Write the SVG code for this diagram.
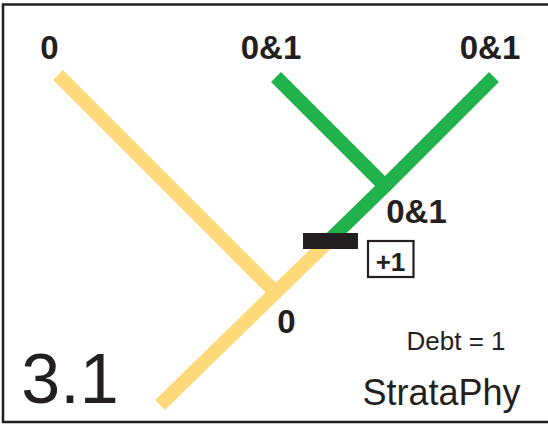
<svg xmlns="http://www.w3.org/2000/svg" width="548" height="424" viewBox="0 0 548 424">
<style>
.y{stroke:#FED97A;stroke-width:14;fill:none;stroke-linecap:butt}
.g{stroke:#22B24C;stroke-width:14;fill:none;stroke-linecap:butt}
.lb{font-family:"Liberation Sans",Arial,sans-serif;font-weight:bold;font-size:33px;fill:#231F20;text-anchor:middle}
.t{font-family:"Liberation Sans",Arial,sans-serif;fill:#231F20;text-anchor:middle}
</style>
<rect x="0" y="0" width="548" height="424" fill="#fff"/>
<rect x="3" y="4.5" width="556" height="417.5" fill="none" stroke="#231F20" stroke-width="2.5"/>
<g id="connectors">
<line class="y" x1="58" y1="75" x2="276" y2="293"/>
<line class="y" x1="160" y1="405" x2="331" y2="238.6"/>
<line class="g" x1="330" y1="239.6" x2="385" y2="186"/>
<line class="g" x1="276" y1="77" x2="386" y2="187"/>
<line class="g" x1="494" y1="77" x2="384" y2="187"/>
</g>
<g id="bar"><rect x="303" y="233" width="55" height="16" fill="#231F20"/></g>
<g id="plus1">
<rect x="368" y="241" width="45.5" height="36" fill="#fff" stroke="#231F20" stroke-width="2.2"/>
<text class="t" x="390.5" y="271" font-size="26" font-weight="bold">+1</text>
</g>
<g id="n_left"><text class="lb" x="49.5" y="59">0</text></g>
<g id="n_mid"><text class="lb" x="271" y="59">0&amp;1</text></g>
<g id="n_right"><text class="lb" x="490" y="59">0&amp;1</text></g>
<g id="n_inner"><text class="lb" x="416.5" y="223">0&amp;1</text></g>
<g id="n_root"><text class="lb" x="286.5" y="333">0</text></g>
<text class="t" x="456" y="350" font-size="26">Debt = 1</text>
<text class="t" x="441.5" y="405" font-size="36">StrataPhy</text>
<text class="t" x="70" y="403" font-size="70">3.1</text>
</svg>
